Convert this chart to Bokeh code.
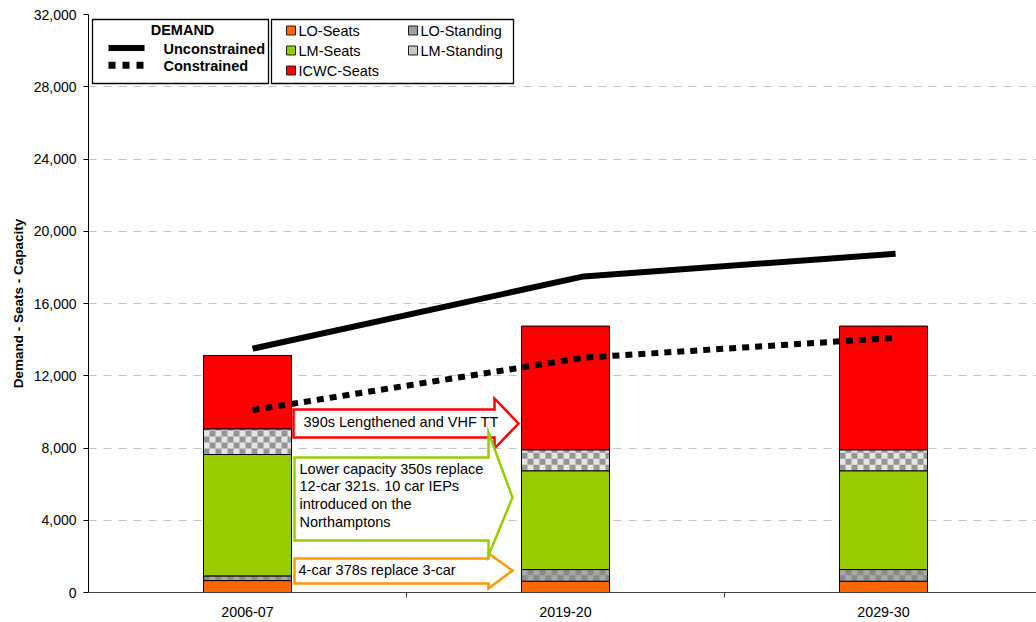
import numpy as np
from bokeh.plotting import figure
from bokeh.models import (Range1d, FixedTicker, NumeralTickFormatter, ColumnDataSource,
                          BoxAnnotation, PolyAnnotation, Label, Arrow)
from bokeh.embed import file_html
from bokeh.resources import INLINE

# ---------------------------------------------------------------- data
periods = ["2006-07", "2019-20", "2029-30"]

lo_seats = [660, 625, 625]
lo_standing = [260, 645, 645]
lm_seats = [6720, 5470, 5470]
lm_standing = [1420, 1160, 1160]
icwc_seats = [4060, 6850, 6850]

demand_unconstrained = [13500, 17500, 18750]
demand_constrained = [10100, 13000, 14100]

y_ticks = [0, 4000, 8000, 12000, 16000, 20000, 24000, 28000, 32000]

# ---------------------------------------------------------------- layout
W, H = 1036, 622
LEFT, TOP, BOTTOM = 88, 14, 30
CAT_PX = 318                      # pixels per category slot
FRAME_W = W - LEFT
FRAME_H = H - TOP - BOTTOM
Y_MAX = 32000
FONT = "Liberation Sans"
TEXT_SIZE = "14.5px"
BAR_W = 88 / CAT_PX
CELL = 6                          # checker cell size in pixels

# demand lines sit slightly right of the bar centres
demand_nudge = [0.016, 0.057, 0.038]


def sx(px):
    """canvas x pixel -> category units"""
    return (px - LEFT) / CAT_PX


def sy(py):
    """canvas y pixel -> value units"""
    return (TOP + FRAME_H - py) * Y_MAX / FRAME_H


p = figure(width=W, height=H, x_range=Range1d(0, FRAME_W / CAT_PX), y_range=Range1d(0, Y_MAX),
           output_backend="svg", toolbar_location=None,
           min_border_left=LEFT, min_border_right=0, min_border_top=TOP, min_border_bottom=BOTTOM)
p.outline_line_color = None
p.background_fill_color = "white"
p.border_fill_color = "white"

# ---------------------------------------------------------------- axes
centres = np.arange(len(periods)) + 0.5
xa = p.xaxis[0]
xa.ticker = FixedTicker(ticks=list(centres), minor_ticks=list(np.arange(1, len(periods))))
xa.major_label_overrides = {float(c): lab for c, lab in zip(centres, periods)}
xa.major_tick_line_color = None
xa.major_tick_out = 5
xa.minor_tick_in = 0
xa.minor_tick_out = 5
xa.minor_tick_line_color = "#404040"
xa.axis_line_color = "#404040"
xa.major_label_standoff = 9
xa.major_label_text_font = FONT
xa.major_label_text_font_size = "14.3px"
xa.major_label_text_color = "black"

ya = p.yaxis[0]
ya.ticker = FixedTicker(ticks=y_ticks)
ya.formatter = NumeralTickFormatter(format="0,0")
ya.major_tick_in = 0
ya.major_tick_out = 5
ya.minor_tick_line_color = None
ya.axis_line_color = "black"
ya.major_tick_line_color = "black"
ya.major_label_standoff = 7
ya.major_label_text_font = FONT
ya.major_label_text_font_size = "14px"
ya.major_label_text_color = "black"
ya.axis_label = "Demand - Seats - Capacity"
ya.axis_label_text_font = FONT
ya.axis_label_text_font_style = "bold"
ya.axis_label_text_font_size = "13.5px"
ya.axis_label_text_color = "black"
ya.axis_label_standoff = 5

p.xgrid.grid_line_color = None
p.ygrid.grid_line_color = "#c4c4c4"
p.ygrid.grid_line_dash = "8 7"

# ---------------------------------------------------------------- stacked bars
layers = [
    ("LO-Seats", lo_seats, "#ff6600", None),
    ("LO-Standing", lo_standing, "#a8a8a8", "#8a8a8a"),
    ("LM-Seats", lm_seats, "#99cc00", None),
    ("LM-Standing", lm_standing, "#e4e4e4", "#959595"),
    ("ICWC-Seats", icwc_seats, "#ff0000", None),
]

cell_w = CELL / CAT_PX
cell_h = CELL * Y_MAX / FRAME_H

base = np.zeros(len(periods))
for name, vals, fill, check in layers:
    top = base + np.array(vals, dtype=float)
    src = ColumnDataSource(dict(x=centres, bottom=base.copy(), top=top, period=periods))
    p.vbar(x="x", bottom="bottom", top="top", width=BAR_W, source=src,
           fill_color=fill, line_color=None)
    if check:
        # checkerboard cells clipped to each standing segment
        L, R, B, T = [], [], [], []
        for xc, b, t in zip(centres, base, top):
            x0 = xc - BAR_W / 2
            nrow = int(np.ceil((t - b) / cell_h))
            ncol = int(np.ceil(BAR_W / cell_w))
            for r in range(nrow):
                for c in range(ncol):
                    if (r + c) % 2:
                        continue
                    L.append(x0 + c * cell_w)
                    R.append(min(x0 + (c + 1) * cell_w, xc + BAR_W / 2))
                    B.append(b + r * cell_h)
                    T.append(min(b + (r + 1) * cell_h, t))
        p.quad(left=L, right=R, bottom=B, top=T, fill_color=check, line_color=None)
    p.vbar(x="x", bottom="bottom", top="top", width=BAR_W, source=src,
           fill_color=None, line_color="black", line_width=1)
    base = top

# ---------------------------------------------------------------- demand lines
line_x = centres + np.array(demand_nudge)
p.line(line_x, demand_unconstrained, line_color="black", line_width=6, line_cap="butt")
p.line(line_x, demand_constrained, line_color="black", line_width=6, line_dash="7 6", line_cap="butt")

# ---------------------------------------------------------------- change arrows
def block_arrow(left, right, body_top, body_bot, head_top, head_bot, tip_x, tip_y, colour):
    xs = [left, right, right, tip_x, right, right, left]
    ys = [body_top, body_top, head_top, tip_y, head_bot, body_bot, body_bot]
    p.add_layout(PolyAnnotation(xs=[sx(v) for v in xs], ys=[sy(v) for v in ys],
                                fill_color="white", fill_alpha=1.0,
                                line_color=colour, line_alpha=1.0, line_width=2.5,
                                line_join="miter"))


block_arrow(294, 488, 558, 583, 553, 588, 512, 570, "#ff9900")
block_arrow(293, 494, 409, 437, 398, 448, 518, 423, "#ff0000")
block_arrow(294, 488, 457, 540, 432, 555, 512, 497, "#99cc00")


def note(text, px, py, size=TEXT_SIZE, bold=False, align="left"):
    p.add_layout(Label(x=sx(px), y=sy(py), text=text, text_font=FONT, text_font_size=size,
                       text_font_style="bold" if bold else "normal", text_color="black",
                       text_align=align, text_baseline="middle"))


note("390s Lengthened and VHF TT", 303, 421.5)
for i, line in enumerate(["Lower capacity 350s replace", "12-car 321s. 10 car IEPs",
                          "introduced on the", "Northamptons"]):
    note(line, 299, 468 + i * 17.9)
note("4-car 378s replace 3-car", 298, 569.5)

# ---------------------------------------------------------------- legend panels
for l, r in [(92, 268), (271, 513)]:
    p.add_layout(BoxAnnotation(left=sx(l), right=sx(r), top=sy(19), bottom=sy(83),
                               fill_color="white", fill_alpha=1.0,
                               line_color="black", line_alpha=1.0, line_width=1.3))

note("DEMAND", 182, 29, bold=True, align="center")
p.add_layout(Arrow(x_start=sx(108), y_start=sy(47.5), x_end=sx(144), y_end=sy(47.5),
                   start=None, end=None, line_color="black", line_width=6, line_cap="butt"))
p.add_layout(Arrow(x_start=sx(108), y_start=sy(64.7), x_end=sx(144), y_end=sy(64.7),
                   start=None, end=None, line_color="black", line_width=7,
                   line_dash="7 7", line_cap="butt"))
note("Unconstrained", 163, 48, bold=True)
note("Constrained", 163, 65.7, bold=True)

swatches = {
    "LO-Seats": "#ff6600",
    "LO-Standing": "#a0a0a0",
    "LM-Seats": "#99cc00",
    "LM-Standing": "#c8c8c8",
    "ICWC-Seats": "#ff0000",
}
slots = [(286, 30), (408, 30), (286, 50), (408, 50), (286, 70)]
for (name, colour), (px, py) in zip(swatches.items(), slots):
    p.add_layout(BoxAnnotation(left=sx(px), right=sx(px + 9), top=sy(py - 4.5), bottom=sy(py + 4.5),
                               fill_color=colour, fill_alpha=1.0,
                               line_color="#202020", line_alpha=1.0, line_width=1))
    note(name, px + 12, py)

open("out.html", "w").write(file_html(p, INLINE))
